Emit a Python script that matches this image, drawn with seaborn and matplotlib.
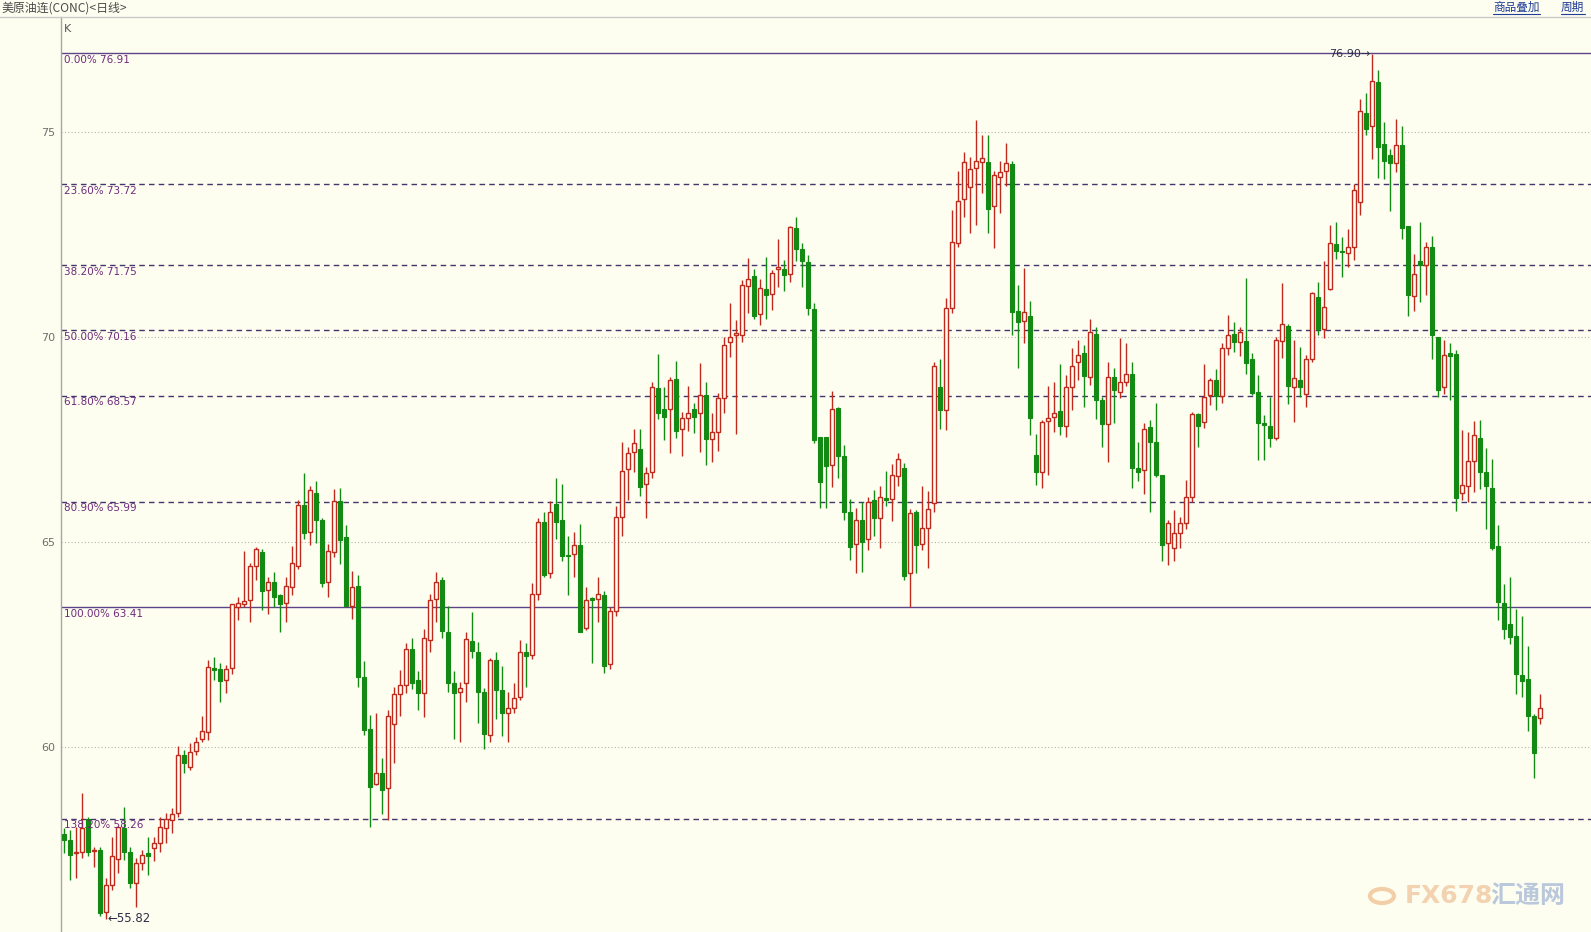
import numpy as np
import pandas as pd
import matplotlib
matplotlib.use("Agg")
import matplotlib.pyplot as plt
import seaborn as sns
from matplotlib.lines import Line2D
from matplotlib.patches import Circle

# ---------------- data ----------------
title = "美原油连(CONC)<日线>"
link_labels = ["商品叠加", "周期"]

opens = [57.88, 57.74, 57.43, 57.44, 58.26, 57.48, 57.50, 56.00, 56.65, 57.27,
         58.03, 57.46, 56.70, 57.19, 57.42, 57.54, 57.66, 58.03, 58.23, 58.39,
         59.82, 59.53, 59.92, 60.21, 60.38, 61.93, 61.91, 61.64, 61.93, 63.43,
         63.49, 63.58, 64.43, 64.75, 63.83, 64.02, 63.71, 63.51, 63.90, 64.43,
         65.91, 65.26, 66.21, 65.54, 64.04, 64.77, 66.00, 65.12, 63.45, 63.93,
         61.72, 60.44, 59.12, 59.37, 59.00, 60.56, 61.29, 61.51, 62.39, 61.64,
         61.33, 62.62, 63.61, 64.08, 62.80, 61.56, 61.34, 61.56, 62.59, 62.32,
         61.34, 60.29, 62.13, 61.40, 60.85, 60.95, 61.23, 62.32, 62.25, 63.75,
         65.50, 64.26, 65.92, 65.54, 64.70, 64.71, 64.93, 62.90, 63.63, 63.61,
         63.71, 62.02, 63.32, 65.61, 66.78, 67.19, 67.27, 66.41, 66.70, 68.75,
         68.25, 68.24, 68.98, 67.77, 68.03, 68.24, 68.16, 68.59, 67.51, 67.69,
         68.51, 69.87, 70.06, 70.06, 71.24, 71.49, 70.55, 71.17, 71.04, 71.66,
         71.66, 71.53, 72.65, 72.14, 71.83, 70.68, 67.57, 67.57, 66.88, 68.28,
         67.11, 65.73, 64.95, 65.54, 65.09, 66.03, 65.58, 66.07, 66.05, 66.62,
         66.82, 64.24, 65.73, 64.95, 65.35, 65.95, 68.79, 68.22, 70.70, 72.28,
         73.36, 73.65, 74.11, 74.26, 74.26, 73.18, 73.89, 74.05, 74.22, 70.63,
         70.40, 70.52, 67.13, 66.72, 67.96, 68.04, 68.20, 67.83, 68.77, 69.40,
         69.60, 69.02, 70.07, 68.46, 67.88, 69.02, 68.67, 68.91, 69.11, 66.80,
         66.76, 67.80, 67.43, 66.64, 64.97, 64.87, 65.22, 65.46, 66.09, 68.12,
         67.92, 68.59, 68.95, 68.57, 69.72, 70.07, 69.89, 69.91, 69.46, 68.65,
         67.91, 67.84, 67.55, 69.90, 70.27, 68.79, 68.95, 68.60, 69.46, 70.98,
         70.20, 71.16, 72.26, 72.10, 72.04, 72.19, 73.30, 75.45, 75.14, 76.21,
         74.70, 74.43, 74.23, 74.68, 72.71, 71.01, 71.86, 71.75, 72.19, 69.99,
         68.77, 69.62, 69.58, 66.19, 66.38, 66.97, 67.55, 66.70, 66.33, 64.90,
         63.52, 63.00, 62.72, 61.76, 61.66, 60.76, 60.72]

highs = [58.03, 57.99, 58.07, 58.88, 58.31, 57.58, 57.58, 56.81, 57.82, 58.07,
         58.55, 57.58, 57.30, 57.50, 57.82, 57.82, 58.31, 58.39, 58.52, 60.03,
         59.94, 60.10, 60.26, 60.76, 62.13, 62.21, 62.05, 62.01, 63.49, 63.67,
         64.79, 64.50, 64.89, 64.83, 64.16, 64.28, 63.75, 64.14, 64.91, 66.04,
         66.69, 66.37, 66.50, 65.58, 64.96, 66.29, 66.31, 65.42, 64.31, 64.20,
         62.11, 60.79, 60.85, 59.75, 60.91, 61.46, 61.89, 62.54, 62.66, 61.87,
         62.88, 63.75, 64.27, 64.14, 63.45, 61.86, 61.60, 62.80, 63.29, 62.58,
         61.44, 62.19, 62.33, 61.98, 61.34, 61.58, 62.62, 62.54, 64.00, 65.58,
         65.74, 66.01, 66.56, 66.43, 65.15, 65.26, 65.44, 63.90, 63.67, 64.14,
         63.82, 63.41, 65.88, 67.45, 67.33, 67.77, 67.76, 66.84, 68.91, 69.59,
         68.77, 69.03, 69.42, 68.18, 68.81, 68.38, 69.36, 68.91, 68.16, 68.63,
         69.99, 70.84, 70.41, 71.39, 71.93, 71.65, 71.41, 71.94, 71.63, 72.39,
         71.88, 72.71, 72.92, 72.28, 72.00, 70.82, 67.57, 67.57, 68.68, 68.30,
         67.37, 66.05, 65.84, 65.97, 66.09, 66.27, 66.38, 66.73, 66.90, 67.17,
         66.92, 65.82, 65.78, 66.38, 66.25, 69.40, 69.46, 70.94, 73.09, 74.04,
         74.50, 74.38, 75.29, 74.92, 74.92, 74.05, 74.30, 74.72, 74.30, 71.27,
         71.67, 70.88, 67.64, 67.98, 68.81, 68.91, 69.34, 69.07, 69.72, 69.93,
         69.80, 70.45, 70.24, 68.53, 69.40, 69.25, 69.97, 69.85, 69.38, 67.45,
         67.90, 67.98, 68.40, 66.64, 65.54, 65.79, 65.62, 66.52, 68.18, 68.16,
         69.33, 68.99, 69.21, 69.85, 70.54, 70.37, 70.25, 71.43, 69.60, 69.07,
         68.10, 68.55, 70.01, 71.31, 70.31, 69.92, 69.76, 69.56, 71.10, 71.35,
         71.84, 72.74, 72.79, 72.44, 72.63, 73.74, 75.81, 75.94, 76.90, 76.51,
         75.23, 74.58, 75.30, 75.13, 72.71, 72.03, 72.80, 72.31, 72.45, 69.99,
         69.93, 69.86, 69.68, 67.73, 67.68, 67.96, 67.97, 67.29, 67.03, 65.42,
         63.98, 64.16, 63.37, 63.20, 62.46, 60.81, 61.29]

lows = [57.43, 56.77, 56.81, 57.30, 57.36, 57.09, 55.88, 55.82, 56.53, 56.93,
        57.26, 56.57, 56.12, 57.01, 56.89, 57.22, 57.46, 57.66, 57.91, 58.31,
        59.37, 59.45, 59.82, 60.14, 60.18, 61.64, 61.10, 61.33, 61.80, 63.10,
        63.43, 63.06, 64.08, 63.36, 63.25, 63.43, 62.80, 63.06, 63.71, 64.35,
        65.09, 64.92, 64.99, 63.90, 63.67, 64.63, 64.47, 63.45, 63.12, 61.48,
        60.30, 58.07, 59.08, 58.38, 58.22, 59.61, 60.77, 61.32, 61.42, 60.91,
        60.75, 62.32, 63.05, 62.66, 61.36, 60.20, 60.14, 61.11, 62.19, 60.59,
        59.95, 60.14, 60.68, 60.28, 60.12, 60.83, 61.15, 61.46, 62.15, 63.59,
        64.14, 64.12, 65.09, 64.53, 63.71, 64.16, 62.80, 62.86, 62.06, 63.06,
        61.82, 61.90, 63.20, 65.16, 66.03, 66.72, 66.13, 65.58, 66.56, 68.00,
        67.49, 67.17, 67.53, 67.11, 67.71, 67.65, 67.19, 66.88, 66.95, 67.23,
        68.14, 69.52, 67.63, 69.87, 70.58, 70.45, 70.29, 70.43, 70.67, 71.23,
        71.12, 71.35, 71.84, 71.23, 70.54, 67.41, 65.83, 65.83, 66.35, 66.57,
        65.54, 64.57, 64.24, 64.28, 64.81, 65.16, 64.87, 65.87, 65.52, 66.38,
        64.08, 63.41, 64.24, 64.81, 64.36, 65.73, 67.77, 67.73, 70.58, 72.20,
        72.93, 72.53, 72.73, 73.52, 72.54, 72.16, 73.01, 73.68, 70.05, 69.24,
        69.85, 67.61, 66.39, 66.31, 66.64, 67.69, 67.61, 67.57, 68.22, 68.95,
        68.29, 68.83, 67.99, 67.33, 66.96, 67.90, 68.51, 68.81, 66.33, 66.49,
        66.17, 65.73, 66.60, 64.54, 64.44, 64.54, 64.87, 65.32, 65.99, 67.33,
        67.79, 68.34, 68.22, 68.38, 69.56, 69.63, 69.54, 69.09, 68.59, 67.00,
        67.00, 67.33, 67.49, 69.50, 68.36, 67.92, 68.55, 68.30, 69.38, 70.05,
        69.98, 71.15, 71.90, 71.47, 71.71, 71.88, 72.97, 74.92, 74.34, 73.88,
        73.85, 73.07, 74.01, 72.40, 70.52, 70.64, 70.86, 71.03, 69.47, 68.54,
        68.62, 68.46, 65.75, 66.04, 65.98, 66.22, 66.29, 65.33, 64.81, 63.11,
        62.63, 62.53, 61.31, 61.22, 60.39, 59.26, 60.56]

closes = [57.74, 57.39, 57.45, 58.03, 57.44, 57.48, 55.96, 56.65, 57.35, 58.05,
          57.46, 56.69, 57.19, 57.39, 57.36, 57.66, 58.05, 58.26, 58.38, 59.82,
          59.61, 59.90, 60.12, 60.41, 61.95, 61.89, 61.62, 61.90, 63.49, 63.51,
          63.57, 64.42, 64.83, 63.82, 64.02, 63.67, 63.49, 63.94, 64.49, 65.90,
          65.23, 66.26, 65.53, 64.00, 64.79, 66.00, 65.05, 63.45, 63.92, 61.72,
          60.42, 59.04, 59.38, 58.95, 60.77, 61.29, 61.51, 62.39, 61.58, 61.33,
          62.66, 63.59, 64.02, 62.84, 61.56, 61.33, 61.45, 62.63, 62.36, 61.36,
          60.33, 62.13, 61.40, 60.85, 60.95, 61.20, 62.33, 62.23, 63.75, 65.50,
          64.20, 65.74, 65.50, 64.67, 64.67, 64.93, 62.82, 63.59, 63.59, 63.75,
          61.98, 63.32, 65.61, 66.74, 67.17, 67.41, 66.35, 66.68, 68.77, 68.16,
          68.06, 68.95, 67.72, 68.02, 68.16, 68.04, 68.59, 67.51, 67.69, 68.51,
          69.80, 70.01, 70.08, 71.27, 71.41, 70.52, 71.19, 71.02, 71.55, 71.71,
          71.51, 72.67, 72.14, 71.85, 70.70, 67.49, 66.47, 66.86, 68.25, 67.11,
          65.73, 64.89, 65.54, 65.01, 65.99, 65.58, 66.09, 66.03, 66.64, 67.03,
          64.18, 65.70, 64.92, 65.35, 65.82, 69.30, 68.22, 70.70, 72.31, 73.31,
          74.26, 74.09, 74.30, 74.35, 73.13, 73.95, 74.03, 74.23, 70.62, 70.36,
          70.60, 68.02, 66.72, 67.94, 68.02, 68.16, 67.83, 68.77, 69.29, 69.55,
          69.06, 70.11, 68.46, 67.88, 69.02, 68.71, 68.91, 69.11, 66.80, 66.72,
          67.77, 67.43, 66.64, 64.92, 65.46, 65.22, 65.46, 66.09, 68.12, 67.84,
          68.53, 68.95, 68.57, 69.72, 70.06, 69.89, 70.11, 69.37, 68.63, 67.90,
          67.86, 67.55, 69.92, 70.31, 68.81, 68.99, 68.77, 69.46, 71.06, 70.20,
          70.72, 72.28, 72.10, 72.06, 72.20, 73.58, 75.51, 75.07, 76.24, 74.64,
          74.30, 74.23, 74.69, 72.65, 71.02, 71.53, 71.75, 72.19, 70.06, 68.71,
          69.55, 69.53, 66.07, 66.40, 66.99, 67.62, 66.70, 66.36, 64.85, 63.55,
          62.88, 62.70, 61.78, 61.61, 60.76, 59.87, 60.96]

fib_pcts = ["0.00%", "23.60%", "38.20%", "50.00%", "61.80%", "80.90%", "100.00%", "138.20%"]
fib_vals = [76.91, 73.72, 71.75, 70.16, 68.57, 65.99, 63.41, 58.26]
ytick_vals = [60, 65, 70, 75]
high_label = "76.90"
low_label = "55.82"

# ---------------- style ----------------
sns.set_style("white")
plt.rcParams['font.family'] = ['DejaVu Sans', 'Noto Sans CJK SC']
CJK = ['Noto Sans CJK SC', 'DejaVu Sans']

BG = '#fefef0'
RED = '#c02a1e'
GREEN = '#138a13'
FIBC = '#45356e'
FIBT = '#6e2a7c'

W, H = 1591, 932
fig = plt.figure(figsize=(W / 100, H / 100), dpi=100, facecolor=BG)
ax_left = 61 / W
ax_top = 1 - 17 / H
ax = fig.add_axes([ax_left, 0, 1 - ax_left, ax_top])
ax.set_facecolor(BG)

df = pd.DataFrame({'o': opens, 'h': highs, 'l': lows, 'c': closes})
df['x'] = np.arange(len(df))
up = df['c'] >= df['o']
dn = ~up

# grid lines at price ticks
for v in ytick_vals:
    ax.axhline(v, color='#b4b4b4', ls=(0, (1, 2)), lw=0.8, zorder=0)

# fibonacci lines and labels
for p, v in zip(fib_pcts, fib_vals):
    solid = p in ("0.00%", "100.00%")
    ax.axhline(v, color=('#5c4488' if solid else FIBC), lw=1.0,
               ls='-' if solid else (0, (4, 3)), zorder=1)
    ax.annotate(f"{p} {v:.2f}", xy=(0, v), xycoords=('axes fraction', 'data'),
                xytext=(2, -1), textcoords='offset points', ha='left', va='top',
                fontsize=7.5, color=FIBT, zorder=6)

# candles: wicks
ax.vlines(df['x'][up], df['l'][up], df['h'][up], color=RED, lw=1, zorder=2)
ax.vlines(df['x'][dn], df['l'][dn], df['h'][dn], color=GREEN, lw=1, zorder=2)
# candles: bodies
bw = 0.7
ax.bar(df['x'][up], (df['c'] - df['o'])[up].clip(lower=0.03), bottom=df['o'][up],
       width=bw, facecolor=BG, edgecolor=RED, lw=1.0, zorder=3)
ax.bar(df['x'][dn], (df['o'] - df['c'])[dn].clip(lower=0.03), bottom=df['c'][dn],
       width=bw, facecolor=GREEN, edgecolor=GREEN, lw=0.8, zorder=3)

# high / low annotations
ih = int(np.argmax(highs))
il = int(np.argmin(lows))
ax.text(ih - 0.2, highs[ih], f"{high_label}\u2192", ha='right', va='center',
        fontsize=8, color='#2e2e48', zorder=7)
ax.text(il + 0.2, lows[il], f"\u2190{low_label}", ha='left', va='center',
        fontsize=8.5, color='#2e2e48', zorder=7)

# axes limits / ticks
ax.set_xlim(-0.5, (W - 64) / 6)
y_per_px = 15 / (747.4 - 131.8)
ax.set_ylim(75 - (H - 131.8) * y_per_px, 75 + (131.8 - 17) * y_per_px)
ax.set_xticks([])
ax.set_yticks(ytick_vals)
ax.set_yticklabels([str(v) for v in ytick_vals])
ax.tick_params(axis='y', length=0, pad=4, labelsize=8, labelcolor='#6e6e6e')
for s in ['top', 'right', 'bottom']:
    ax.spines[s].set_visible(False)
ax.spines['left'].set_color('#a6a6a6')
ax.spines['left'].set_linewidth(1)

# "K" label
ax.annotate("K", xy=(0, 1), xycoords='axes fraction', xytext=(2, -5),
            textcoords='offset points', ha='left', va='top', fontsize=8, color='#555555')

# header
fig.add_artist(Line2D([0, 1], [ax_top, ax_top], transform=fig.transFigure,
                      color='#c9c9c9', lw=1))
fig.text(1 / W, 1 - 8 / H, title, ha='left', va='center', fontsize=8.6,
         color='#4a4a4a', family=CJK)
link_x = [1493, 1561]
link_w = [47, 24]
for lx, lw_, lab in zip(link_x, link_w, link_labels):
    fig.text(lx / W, 1 - 7 / H, lab, ha='left', va='center', fontsize=8.4,
             color='#1f3c96', family=CJK)
    fig.add_artist(Line2D([lx / W, (lx + lw_) / W], [1 - 14 / H, 1 - 14 / H],
                          transform=fig.transFigure, color='#1f3c96', lw=0.8))

# watermark
fig.add_artist(Circle((1382 / W, 1 - 896 / H), 12 / W, transform=fig.transFigure,
                      facecolor='none', edgecolor='#f2c79a', lw=3, alpha=0.85))
fig.text(1405 / W, 1 - 896 / H, "FX678", ha='left', va='center', fontsize=18,
         fontweight='bold', color='#f0cba5', alpha=0.85)
fig.text(1490 / W, 1 - 896 / H, "汇通网", ha='left', va='center', fontsize=18,
         fontweight='bold', color='#aebfd9', alpha=0.85, family=CJK)

fig.savefig("out.png", dpi=100, facecolor=BG)
